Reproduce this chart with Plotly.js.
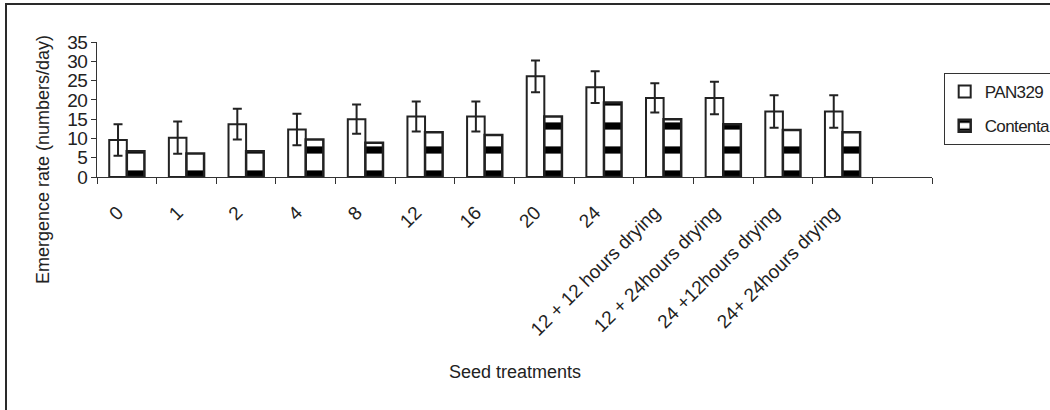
<!DOCTYPE html>
<html>
<head>
<meta charset="utf-8">
<script src="https://cdn.plot.ly/plotly-3.0.1.min.js"></script>
<style>
  html, body { margin:0; padding:0; background:#fff; overflow:hidden; }
  #wrap { position:relative; width:1050px; height:410px; }
  #chart { width:1050px; height:410px; }
  #frame { position:absolute; left:5px; top:3px; width:2000px; height:2000px;
           border-left:2px solid #2a2a2a; border-top:2px solid #2a2a2a; pointer-events:none; }
  .ytick text, .legendtext { letter-spacing:-0.6px; }
</style>
</head>
<body>
<div id="wrap">
  <div id="chart"></div>
  <div id="frame"></div>
</div>
<script>
// Seed treatments (categories)
const treatments = ["0", "1", "2", "4", "8", "12", "16", "20", "24",
  "12 + 12 hours drying", "12 + 24hours drying", "24 +12hours drying", "24+ 24hours drying"];
const axisSlots = treatments.concat([" "]);

// Emergence rate (numbers/day)
const pan329 =      [9.6, 10.2, 13.7, 12.3, 15.0, 15.7, 15.7, 26.1, 23.3, 20.5, 20.5, 17.0, 17.0];
const pan329Error = [4.1, 4.2, 4.0, 4.1, 3.8, 3.9, 3.9, 4.1, 4.1, 3.8, 4.2, 4.2, 4.2];
const contenta =    [6.7, 6.1, 6.7, 9.7, 8.9, 11.6, 10.9, 15.7, 19.3, 15.0, 13.7, 12.2, 11.6];

const yTicks = [0, 5, 10, 15, 20, 25, 30, 35];

const ink = "#222";
const fontFamily = "Arial, 'Liberation Sans', sans-serif";

const traces = [
  {
    type: "bar", name: "PAN329", x: treatments, y: pan329,
    legendgroup: "a",
    marker: { color: "#ffffff", line: { color: ink, width: 2 } },
    error_y: { type: "data", array: pan329Error, visible: true, color: ink, thickness: 2, width: 4.5 }
  },
  {
    type: "bar", name: "Contenta", x: treatments, y: contenta,
    legendgroup: "b",
    marker: { color: "#ffffff", line: { color: ink, width: 2.5 },
      pattern: { shape: "-", fgcolor: "#000", bgcolor: "#fff", size: 24, solidity: 0.3 } }
  }
];

const layout = {
  width: 1050, height: 410,
  margin: { l: 97, r: 118, t: 42, b: 233, autoexpand: false },
  paper_bgcolor: "#fff", plot_bgcolor: "#fff",
  font: { family: fontFamily, size: 18, color: ink },
  barmode: "group", bargap: 0.41, bargroupgap: 0,
  showlegend: true,
  legend: {
    x: 1.014, xanchor: "left", y: 0.77, yanchor: "top",
    bordercolor: "#333", borderwidth: 1, bgcolor: "#fff",
    font: { family: fontFamily, size: 17, color: ink },
    tracegroupgap: 9, itemwidth: 30
  },
  xaxis: {
    type: "category", categoryorder: "array", categoryarray: axisSlots,
    range: [-0.5, 13.5], fixedrange: true,
    showline: true, linecolor: "#333", linewidth: 1,
    ticks: "outside", tickson: "boundaries", ticklen: 6, tickcolor: "#333", tickwidth: 1,
    tickangle: -45, tickfont: { family: fontFamily, size: 19, color: ink },
    ticklabelstandoff: 16, ticklabelshift: -9,
    showgrid: false, zeroline: false
  },
  yaxis: {
    range: [0, 35], tickvals: yTicks, fixedrange: true,
    showline: true, linecolor: "#333", linewidth: 1,
    ticks: "outside", ticklen: 5, tickcolor: "#333", tickwidth: 1,
    tickfont: { family: fontFamily, size: 19, color: ink },
    showgrid: false, zeroline: false
  },
  annotations: [
    { text: "Emergence rate (numbers/day)", xref: "paper", yref: "paper",
      x: -0.064, y: 0.13, xanchor: "center", yanchor: "middle", textangle: -90,
      showarrow: false, font: { family: fontFamily, size: 18, color: ink } },
    { text: "Seed treatments", xref: "paper", yref: "paper",
      x: 0.5, y: -1.444, xanchor: "center", yanchor: "middle",
      showarrow: false, font: { family: fontFamily, size: 18, color: ink } }
  ]
};

Plotly.newPlot("chart", traces, layout, { displayModeBar: false, staticPlot: true });
</script>
</body>
</html>
